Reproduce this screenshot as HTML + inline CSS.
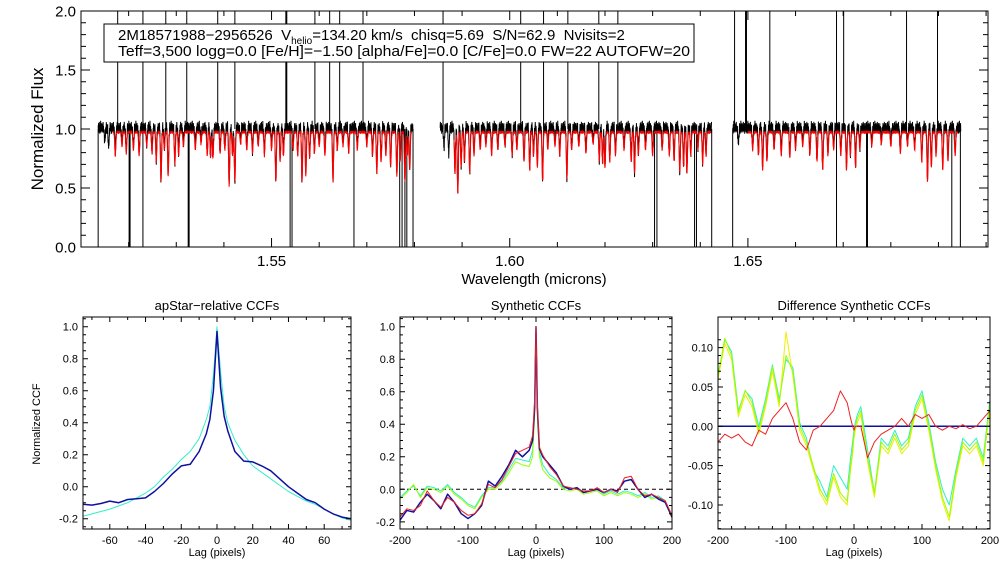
<!DOCTYPE html>
<html><head><meta charset="utf-8"><style>
html,body{margin:0;padding:0;background:#fff}
svg{display:block;font-family:"Liberation Sans",sans-serif}
</style></head><body>
<svg id="c" width="1008" height="576" viewBox="0 0 1008 576" xmlns="http://www.w3.org/2000/svg">
<defs>
<clipPath id="cpTop"><rect x="81" y="11" width="907" height="236"/></clipPath>
<clipPath id="cp1"><rect x="83" y="317" width="268" height="212"/></clipPath>
<clipPath id="cp2"><rect x="400" y="317" width="272" height="212"/></clipPath>
<clipPath id="cp3"><rect x="718" y="317" width="272" height="212"/></clipPath>
</defs>
<g id="top"></g>
<g id="p1"></g>
<g id="p2"></g>
<g id="p3"></g>
<g>
<rect x="104" y="24" width="590" height="38" fill="#fff" stroke="#000" stroke-width="1"/>
<text x="118" y="40" font-size="15" xml:space="preserve">2M18571988−2956526  V<tspan font-size="10" dy="4">helio</tspan><tspan dy="-4">=134.20 km/s  chisq=5.69  S/N=62.9  Nvisits=2</tspan></text>
<text x="118" y="56" font-size="15" textLength="572" lengthAdjust="spacingAndGlyphs">Teff=3,500 logg=0.0 [Fe/H]=−1.50 [alpha/Fe]=0.0 [C/Fe]=0.0 FW=22 AUTOFW=20</text>
</g>
</svg>
<script>
// ---------- DATA ----------
const chips = [[1.5136,1.5797],[1.5854,1.6424],[1.6468,1.6947]];
const redChips = [[1.5167,1.5794],[1.5883,1.6422],[1.6500,1.6940]];
const deepLines = [[1.5268,0.42],[1.5283,0.37],[1.5297,0.27],[1.5377,0.22],[1.5411,0.45],[1.5423,0.42],[1.5509,0.42],[1.5564,0.42],[1.5572,0.37],[1.5629,0.42],[1.5721,0.35],[1.5763,0.37],[1.5780,0.42],[1.5790,0.32],
[1.5891,0.52],[1.5916,0.35],[1.6042,0.32],[1.6069,0.42],[1.6120,0.40],[1.6195,0.27],[1.6262,0.35],[1.6357,0.35],[1.6372,0.35],[1.6405,0.27],
[1.6531,0.32],[1.6588,0.22],[1.6657,0.32],[1.6707,0.32],[1.6726,0.30],[1.6877,0.42],[1.6909,0.32]];
const shallowLines = [[1.5150,.1],[1.5158,.15],[1.5172,.2],[1.5186,.12],[1.5195,.18],[1.5210,.15],[1.5222,.2],[1.5238,.12],[1.5249,.18],[1.5258,.25],[1.5275,.15],[1.5305,.2],[1.5315,.12],[1.5340,.15],[1.5352,.1],[1.5365,.2],[1.5372,.22],[1.5392,.18],[1.5402,.15],[1.5418,.2],[1.5435,.1],[1.5448,.15],[1.5460,.18],[1.5472,.12],[1.5485,.2],[1.5500,.15],[1.5518,.25],[1.5525,.2],[1.5545,.15],[1.5555,.2],[1.5580,.22],[1.5590,.18],[1.5600,.12],[1.5612,.2],[1.5638,.15],[1.5650,.12],[1.5662,.18],[1.5680,.15],[1.5700,.12],[1.5712,.2],[1.5730,.25],[1.5740,.2],[1.5750,.3],[1.5770,.25],[1.5785,.2],
[1.5862,.15],[1.5872,.2],[1.5885,.35],[1.5898,.3],[1.5905,.25],[1.5925,.2],[1.5938,.15],[1.5950,.12],[1.5962,.2],[1.5975,.15],[1.5990,.12],[1.6005,.2],[1.6015,.15],[1.6030,.25],[1.6050,.2],[1.6058,.3],[1.6080,.15],[1.6095,.12],[1.6105,.2],[1.6130,.15],[1.6145,.12],[1.6160,.18],[1.6175,.1],[1.6188,.25],[1.6200,.3],[1.6210,.25],[1.6222,.2],[1.6240,.15],[1.6255,.25],[1.6270,.2],[1.6285,.15],[1.6300,.2],[1.6320,.15],[1.6335,.2],[1.6345,.25],[1.6365,.3],[1.6380,.2],[1.6395,.15],[1.6412,.2],
[1.6480,.12],[1.6510,.15],[1.6522,.2],[1.6540,.25],[1.6555,.15],[1.6570,.2],[1.6600,.15],[1.6615,.12],[1.6630,.2],[1.6645,.25],[1.6668,.2],[1.6680,.15],[1.6695,.2],[1.6715,.2],[1.6735,.15],[1.6760,.12],[1.6780,.1],[1.6800,.12],[1.6820,.18],[1.6835,.12],[1.6850,.15],[1.6865,.25],[1.6885,.3],[1.6895,.2],[1.6920,.25],[1.6935,.2]];
const upSpikes = [1.5177,1.5230,1.5278,1.5322,1.5387,1.5423,1.5530,1.5532,1.5591,1.5622,1.5643,1.5692,1.5860,1.6023,1.6071,1.6122,1.6187,1.6227,1.6472,1.6495,1.6497,1.6546,1.6686,1.6701,1.6833,1.6898];
const downSpikes = [1.5136,1.5201,1.5203,1.5230,1.5325,1.5327,1.5539,1.5543,1.5673,1.5769,1.5774,1.5780,1.5784,1.5797,1.6304,1.6309,1.6388,1.6392,1.6424,1.6468,1.6686,1.6749,1.6751,1.6928,1.6946];
const noisePattern = [0.03,-0.02,0.05,0.0,-0.03,0.02,0.06,-0.01,0.01,-0.04,0.04,0.02,-0.02,0.07,0.0,-0.03,0.03,0.01,-0.01,0.05,-0.02,0.02,0.0,0.04,-0.03,0.01,0.06,-0.01,0.03,-0.02,0.02,0.0,0.05,-0.04,0.01,0.03,-0.01];
const topYTicks = [0.0,0.5,1.0,1.5,2.0];
const topXTicks = [1.55,1.60,1.65];

const lagsA = [-75,-70,-65,-60,-55,-50,-45,-40,-35,-30,-25,-20,-15,-10,-6,-4,-2,0,2,4,6,10,15,20,25,30,35,40,45,50,55,60,65,70,75];
const ccfA_blue = [-0.11,-0.115,-0.105,-0.09,-0.1,-0.08,-0.075,-0.07,-0.03,0.02,0.08,0.13,0.14,0.22,0.33,0.42,0.6,0.97,0.62,0.44,0.35,0.22,0.16,0.155,0.13,0.10,0.05,0.0,-0.04,-0.08,-0.10,-0.14,-0.17,-0.19,-0.20];
const ccfA_turq = [-0.185,-0.17,-0.155,-0.14,-0.12,-0.10,-0.07,-0.04,0.0,0.06,0.11,0.17,0.22,0.30,0.42,0.5,0.7,1.0,0.72,0.5,0.4,0.29,0.2,0.13,0.09,0.05,0.01,-0.03,-0.06,-0.09,-0.11,-0.14,-0.17,-0.195,-0.21];
const ticksA_x = [-60,-40,-20,0,20,40,60];
const ticksAB_y = [-0.2,0.0,0.2,0.4,0.6,0.8,1.0];

const lagsB = [-200,-190,-180,-170,-160,-150,-140,-130,-120,-110,-100,-90,-80,-70,-60,-50,-40,-30,-20,-10,-5,-2,0,2,5,10,20,30,40,50,60,70,80,90,100,110,120,130,140,150,160,170,180,190,200];
const ccfB_blue = [-0.19,-0.13,-0.14,-0.08,-0.03,-0.07,-0.12,-0.03,-0.08,-0.15,-0.18,-0.15,-0.10,0.05,0.02,0.08,0.15,0.24,0.20,0.24,0.3,0.5,1.0,0.5,0.25,0.2,0.15,0.10,0.02,0.0,0.01,-0.02,-0.01,0.0,-0.02,0.0,-0.01,0.05,0.06,0.0,-0.05,-0.03,-0.06,-0.08,-0.17];
const ccfB_red = [-0.17,-0.12,-0.13,-0.10,-0.01,-0.07,-0.11,-0.05,-0.08,-0.13,-0.16,-0.15,-0.09,0.03,0.01,0.06,0.14,0.22,0.24,0.26,0.33,0.55,1.0,0.52,0.26,0.21,0.14,0.09,0.02,0.01,0.0,-0.01,-0.01,0.01,-0.02,0.0,-0.02,0.07,0.08,0.0,-0.04,-0.03,-0.05,-0.07,-0.16];
const ccfB_lime = [-0.06,-0.02,0.03,-0.05,0.01,0.0,-0.02,0.02,-0.03,-0.06,-0.10,-0.12,-0.05,0.0,0.0,0.04,0.10,0.17,0.15,0.14,0.2,0.45,1.0,0.45,0.2,0.12,0.07,0.05,0.0,-0.01,0.0,-0.03,-0.02,-0.01,-0.04,-0.02,-0.04,-0.02,-0.03,-0.05,-0.03,-0.06,-0.05,-0.08,-0.18];
const ccfB_cyan = [-0.05,-0.01,0.02,-0.04,0.02,0.01,-0.01,0.03,-0.02,-0.05,-0.09,-0.11,-0.04,0.01,0.01,0.05,0.12,0.19,0.18,0.17,0.24,0.5,1.0,0.5,0.23,0.15,0.09,0.06,0.01,0.0,0.01,-0.02,-0.01,0.0,-0.03,-0.01,-0.03,-0.01,-0.02,-0.04,-0.02,-0.05,-0.04,-0.07,-0.17];
const ticksBC_x = [-200,-100,0,100,200];

const ccfC_lime = [0.063,0.112,0.09,0.017,0.046,0.03,-0.005,0.03,0.076,0.03,0.09,0.07,0.0,-0.02,-0.05,-0.08,-0.095,-0.06,-0.085,-0.095,-0.05,-0.03,-0.01,0.0,0.01,0.02,-0.04,-0.085,-0.02,-0.03,-0.01,-0.03,-0.02,0.02,0.04,0.0,-0.05,-0.09,-0.115,-0.06,-0.02,-0.03,-0.02,-0.045,0.03];
const ccfC_yellow = [0.06,0.105,0.085,0.012,0.04,0.025,-0.01,0.025,0.07,0.025,0.12,0.065,-0.005,-0.025,-0.055,-0.085,-0.1,-0.065,-0.09,-0.1,-0.055,-0.035,-0.015,-0.005,0.005,0.015,-0.045,-0.09,-0.025,-0.035,-0.015,-0.035,-0.025,0.015,0.035,-0.005,-0.055,-0.095,-0.12,-0.065,-0.025,-0.035,-0.025,-0.05,0.025];
const ccfC_cyan = [0.065,0.11,0.095,0.02,0.045,0.035,0.0,0.035,0.078,0.035,0.085,0.075,0.005,-0.015,-0.055,-0.07,-0.09,-0.05,-0.065,-0.08,-0.04,-0.02,-0.005,0.005,0.015,0.025,-0.03,-0.085,-0.015,-0.025,-0.005,-0.025,-0.015,0.025,0.045,0.005,-0.045,-0.08,-0.10,-0.055,-0.015,-0.025,-0.015,-0.04,0.035];
const ccfC_red = [-0.02,-0.01,-0.015,-0.01,-0.02,-0.025,-0.005,-0.01,0.01,0.02,0.03,0.01,-0.02,-0.03,-0.005,0.0,0.01,0.02,0.045,0.03,0.01,0.0,-0.005,0.0,0.0,0.0,-0.04,-0.02,-0.01,-0.005,0.0,0.01,0.0,0.015,0.01,0.015,0.0,-0.005,0.0,-0.003,0.002,-0.003,0.0,0.01,0.02];
const ticksC_y = [-0.10,-0.05,0.00,0.05,0.10];

// ---------- HELPERS ----------
const NS="http://www.w3.org/2000/svg";
function mk(tag,parent,attrs){const e=document.createElementNS(NS,tag);for(const k in attrs)e.setAttribute(k,attrs[k]);parent.appendChild(e);return e;}
function lin(d0,d1,r0,r1){return v=>r0+(v-d0)/(d1-d0)*(r1-r0);}

function drawAxes(g,box,xs,ys,xTicks,yTicks,xMinorStep,yMinorStep,xdom,ydom,fmtX,fmtY,fs,majL,minL){
  const [x0,y0,x1,y1]=box;
  const fr=mk('rect',g,{x:x0,y:y0,width:x1-x0,height:y1-y0,fill:'none',stroke:'#000','stroke-width':1});
  
  
  let p='';
  for(let v=Math.ceil(xdom[0]/xMinorStep-1e-6)*xMinorStep;v<=xdom[1]+1e-9;v+=xMinorStep){const X=xs(v);p+=`M${X} ${y1}v${-minL}M${X} ${y0}v${minL}`;}
  for(let v=Math.ceil(ydom[0]/yMinorStep-1e-6)*yMinorStep;v<=ydom[1]+1e-9;v+=yMinorStep){const Y=ys(v);p+=`M${x0} ${Y}h${minL}M${x1} ${Y}h${-minL}`;}
  xTicks.forEach(v=>{const X=xs(v);p+=`M${X} ${y1}v${-majL}M${X} ${y0}v${majL}`;});
  yTicks.forEach(v=>{const Y=ys(v);p+=`M${x0} ${Y}h${majL}M${x1} ${Y}h${-majL}`;});
  const tk=mk('path',g,{d:p,stroke:'#000','stroke-width':1,fill:'none'});
  
  
  xTicks.forEach(v=>{const t=mk('text',g,{x:xs(v),y:y1+fs+4,'font-size':fs,'text-anchor':'middle'});t.textContent=fmtX(v);
    
    });
  yTicks.forEach(v=>{const t=mk('text',g,{x:x0-5,y:ys(v)+fs*0.36,'font-size':fs,'text-anchor':'end'});t.textContent=fmtY(v);
    
    });
}
function line(g,xs,ys,X,Y,color,clip,name,w){
  let d='';for(let i=0;i<X.length;i++)d+=(i?'L':'M')+xs(X[i]).toFixed(2)+' '+ys(Y[i]).toFixed(2);
  const e=mk('path',g,{d:d,stroke:color,'stroke-width':w||1,fill:'none','clip-path':`url(#${clip})`,'stroke-linejoin':'round'});
  
  
  return e;
}
function txt(g,x,y,s,fs,name,extra){const t=mk('text',g,Object.assign({x:x,y:y,'font-size':fs,'text-anchor':'middle'},extra||{}));t.textContent=s;
  
  return t;}

// ---------- TOP SPECTRUM ----------
(function(){
  const g=document.getElementById('top');
  const xs=lin(1.51,1.7004,81,988), ys=lin(0,2,247,11);
  const sig=0.00011;
  const allLines=deepLines.concat(shallowLines);
  function model(w){let f=0;for(const [c,d] of allLines){const z=(w-c)/sig;if(z*z<30)f+=d*Math.exp(-0.5*z*z);}return f;}
  const step=0.00004;
  let bd='',rd='',k=0;
  chips.forEach(([a,b])=>{let first=true;for(let w=a;w<=b;w+=step){const v=1.0+noisePattern[k%noisePattern.length]-model(w)*1.05;k++;
    bd+=(first?'M':'L')+xs(w).toFixed(2)+' '+ys(v).toFixed(2);first=false;}});
  redChips.forEach(([a,b])=>{let first=true;for(let w=a;w<=b;w+=step){const v=0.97+noisePattern[(k+7)%noisePattern.length]*0.25-model(w);k++;
    rd+=(first?'M':'L')+xs(w).toFixed(2)+' '+ys(v).toFixed(2);first=false;}});
  let sp='';
  upSpikes.forEach(w=>{sp+=`M${xs(w).toFixed(2)} ${ys(1.0)}V${ys(2.1)}`;});
  downSpikes.forEach(w=>{sp+=`M${xs(w).toFixed(2)} ${ys(1.0)}V${ys(-0.1)}`;});
  const b=mk('path',g,{d:bd+sp,stroke:'#000','stroke-width':1,fill:'none','clip-path':'url(#cpTop)'});
  
  
  const r=mk('path',g,{d:rd,stroke:'#ff0000','stroke-width':1,fill:'none','clip-path':'url(#cpTop)'});
  
  
  drawAxes(g,[81,11,988,247],xs,ys,topXTicks,topYTicks,0.01,0.1,[1.51,1.70],[0,2],v=>v.toFixed(2),v=>v.toFixed(1),15,9,5);
  txt(g,534,284,'Wavelength (microns)',15,'x-axis-title');
  txt(g,0,0,'Normalized Flux',17,'y-axis-title',{transform:'translate(43,129) rotate(-90)'});
})();

// ---------- CCF PANELS ----------
(function(){
  const yA=lin(0,1,486.7,326.7);
  const g1=document.getElementById('p1');
  const xA=lin(-75,75,83,351);
  line(g1,xA,yA,lagsA,ccfA_turq,'#33eec8','cp1','ccf-turquoise');
  line(g1,xA,yA,lagsA,ccfA_blue,'#1010a0','cp1','ccf-blue',1.5);
  drawAxes(g1,[83,317,351,529],xA,yA,ticksA_x,ticksAB_y,10,0.05,[-75,75],[-0.26,1.06],v=>v,v=>v.toFixed(1),11,5,3);
  txt(g1,217,310,'apStar−relative CCFs',13,'panel-title');
  txt(g1,217,556,'Lag (pixels)',11,'x-axis-title');
  txt(g1,0,0,'Normalized CCF',11,'y-axis-title',{transform:'translate(40,424) rotate(-90)'});

  const g2=document.getElementById('p2');
  const xB=lin(-200,200,400,672), yB=lin(0,1,489.3,326.7);
  const dl=mk('line',g2,{x1:400,x2:672,y1:yB(0),y2:yB(0),stroke:'#000','stroke-dasharray':'4,3'});
  
  
  line(g2,xB,yB,lagsB,ccfB_cyan,'#33eec8','cp2','ccf-turquoise');
  line(g2,xB,yB,lagsB,ccfB_lime,'#99ff00','cp2','ccf-lime');
  line(g2,xB,yB,lagsB,ccfB_blue,'#1010a0','cp2','ccf-blue',1.5);
  line(g2,xB,yB,lagsB,ccfB_red,'#ee2020','cp2','ccf-red');
  drawAxes(g2,[400,317,672,529],xB,yB,ticksBC_x,ticksAB_y,20,0.05,[-200,200],[-0.24,1.06],v=>v,v=>v.toFixed(1),11,5,3);
  txt(g2,536,310,'Synthetic CCFs',13,'panel-title');
  txt(g2,536,556,'Lag (pixels)',11,'x-axis-title');

  const g3=document.getElementById('p3');
  const xC=lin(-200,200,718,990), yC=lin(0,0.1,426.3,347.6);
  const zl=mk('line',g3,{x1:718,x2:990,y1:yC(0),y2:yC(0),stroke:'#1010a0','stroke-width':1.5});
  
  
  line(g3,xC,yC,lagsB,ccfC_cyan,'#33eec8','cp3','diff-turquoise');
  line(g3,xC,yC,lagsB,ccfC_yellow,'#eeee00','cp3','diff-yellow');
  line(g3,xC,yC,lagsB,ccfC_lime,'#99ff00','cp3','diff-lime');
  line(g3,xC,yC,lagsB,ccfC_red,'#ee2020','cp3','diff-red');
  drawAxes(g3,[718,317,990,529],xC,yC,ticksBC_x,ticksC_y,20,0.01,[-200,200],[-0.13,0.111],v=>v,v=>v.toFixed(2),11,5,3);
  txt(g3,854,310,'Difference Synthetic CCFs',13,'panel-title');
  txt(g3,854,556,'Lag (pixels)',11,'x-axis-title');
})();
</script>
</body></html>
